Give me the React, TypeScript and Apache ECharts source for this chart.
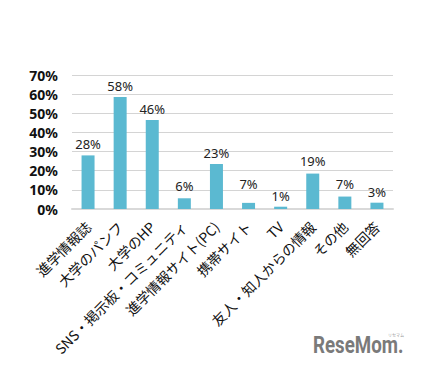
import React, { useEffect, useRef } from "react";
import * as echarts from "echarts";

const categories = [
  "進学情報誌",
  "大学のパンフ",
  "大学のHP",
  "SNS・掲示板・コミュニティ",
  "進学情報サイト(PC)",
  "携帯サイト",
  "TV",
  "友人・知人からの情報",
  "その他",
  "無回答",
];
// Percentages printed above the bars
const labelValues = [28, 58, 46, 6, 23, 7, 1, 19, 7, 3];
// Bar heights as drawn in the picture
const barHeights = [28, 58.5, 46.5, 5.6, 23.5, 3.2, 1.2, 18.5, 6.5, 3.3];
const yTicks = [0, 10, 20, 30, 40, 50, 60, 70];

export default function App() {
  const ref = useRef<HTMLDivElement>(null);
  useEffect(() => {
    if (!ref.current) return;
    const chart = echarts.init(ref.current, null, { renderer: "svg" });
    chart.setOption({
      animation: false,
      backgroundColor: "#ffffff",
      grid: { left: 64, right: 20, top: 67, bottom: 153 },
      xAxis: {
        type: "category",
        data: categories,
        axisLine: { lineStyle: { color: "#d9d9d9", width: 2 } },
        axisTick: { show: false },
        axisLabel: {
          rotate: 45,
          interval: 0,
          margin: 15,
          color: "#111",
          fontSize: 14,
          fontFamily: "Noto Sans CJK JP",
        },
      },
      yAxis: {
        type: "value",
        min: yTicks[0],
        max: yTicks[yTicks.length - 1],
        interval: 10,
        axisLine: { show: false },
        axisTick: { show: false },
        splitLine: { lineStyle: { color: "#d4d4d4", width: 1 } },
        axisLabel: {
          margin: 14,
          color: "#111",
          fontSize: 14,
          fontWeight: "bold",
          fontFamily: "Noto Sans",
          formatter: (v: number) => v + "%",
        },
      },
      series: [
        {
          type: "bar",
          data: barHeights,
          barWidth: 13,
          itemStyle: { color: "#5bb9d1" },
          z: 3,
        },
        {
          type: "bar",
          data: labelValues,
          barWidth: 13,
          barGap: "-100%",
          itemStyle: { color: "rgba(0,0,0,0)" },
          silent: true,
          z: 2,
          label: {
            show: true,
            position: "top",
            distance: 5,
            color: "#222",
            fontSize: 13,
            fontFamily: "Noto Sans",
            formatter: (p: any) => p.value + "%",
          },
        },
      ],
      graphic: [
        {
          type: "text",
          x: 305,
          y: 325,
          scaleX: 0.78,
          style: {
            text: "ReseMom.",
            fill: "#7a7a7a",
            font: "bold 24px 'Roboto'",
          },
        },
        {
          type: "text",
          x: 380,
          y: 325,
          style: {
            text: "リセマム",
            fill: "#999",
            font: "4px 'Noto Sans CJK JP'",
          },
        },
      ],
    });
    return () => chart.dispose();
  }, []);
  return <div ref={ref} style={{ width: 405, height: 354 }} />;
}
